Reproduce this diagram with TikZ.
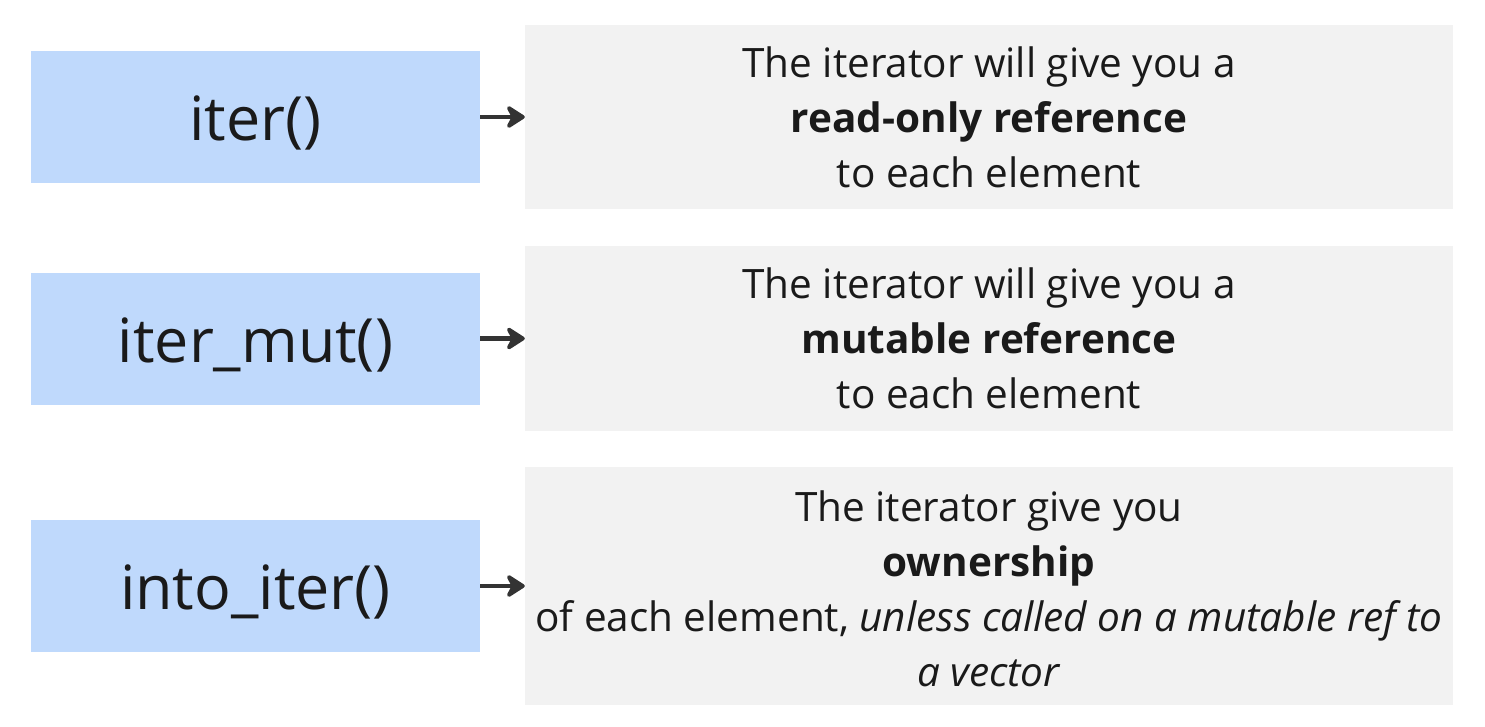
\documentclass[tikz,border=0pt]{standalone}
\usepackage{fontspec}
\setmainfont{Open Sans}
\usetikzlibrary{arrows.meta}

\definecolor{callblue}{RGB}{191,217,252}
\definecolor{notegray}{RGB}{242,242,242}
\definecolor{inkdark}{RGB}{26,26,26}
\definecolor{arrowdark}{RGB}{51,51,51}

\tikzset{callarrow/.style={arrowdark,line width=4.5pt,line join=round,-{Stealth[length=22pt,width=28pt,inset=7pt,round]}}}

\begin{document}
\begin{tikzpicture}[x=1pt,y=-1pt]
        \useasboundingbox (0,0) rectangle (1485,726);
        \begin{scope}[every node/.style={fill=callblue,text=inkdark,minimum width=449pt,minimum height=132pt,inner sep=0pt,text height=60pt,text depth=12.7pt,font=\fontsize{61}{70}\selectfont}]
            \node (iter) at (255.5,117) {iter()};
            \node (itermut) at (255.5,338.5) {iter\_mut()};
            \node (intoiter) at (255.5,586) {into\_iter()};
        \end{scope}
        \begin{scope}[every node/.style={fill=notegray,text=inkdark,minimum width=928pt,inner sep=0pt,align=center,font=\fontsize{40.5}{55}\selectfont}]
            \node[minimum height=184pt] (readonly) at (989,117) {The iterator will give you a\\ \textbf{read-only reference}\\ to each element};
            \node[minimum height=185pt] (mutable) at (989,338.5) {The iterator will give you a\\ \textbf{mutable reference}\\ to each element};
            \node[minimum height=238pt] (owner) at (989,586) {\rule{0pt}{37pt}The iterator give you\\ \textbf{ownership}\\ of each element, \textit{unless called on a mutable ref to}\\ \textit{a vector}};
        \end{scope}
        \draw[callarrow] (iter) -- (readonly);
        \draw[callarrow] (itermut) -- (mutable);
        \draw[callarrow] (intoiter) -- (owner);
    \end{tikzpicture}
\end{document}
